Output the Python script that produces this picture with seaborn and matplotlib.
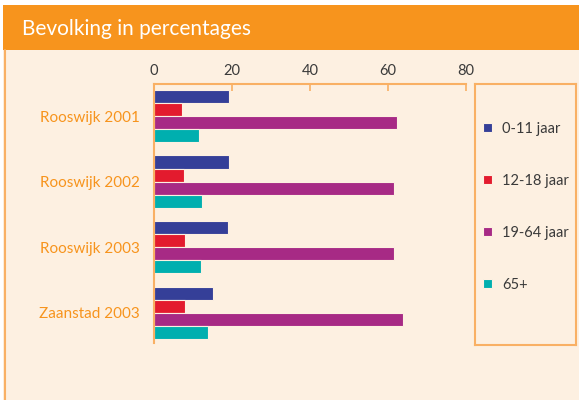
import pandas as pd
import seaborn as sns
import matplotlib.pyplot as plt
from matplotlib.patches import Rectangle
from matplotlib.lines import Line2D

# values
places = ["Rooswijk 2001", "Rooswijk 2002", "Rooswijk 2003", "Zaanstad 2003"]
ages = ["0-11 jaar", "12-18 jaar", "19-64 jaar", "65+"]
age_0_11 = [19.3, 19.3, 19.0, 15.2]
age_12_18 = [7.3, 7.8, 8.0, 8.0]
age_19_64 = [62.4, 61.6, 61.6, 63.9]
age_65 = [11.6, 12.4, 12.1, 13.9]
xticks = [0, 20, 40, 60, 80]

colors = ["#353f98", "#e31b2e", "#a72a85", "#00afaf"]
orange = "#f7941d"
line_orange = "#f9b064"
cream = "#fdf0e1"
text_grey = "#3a3a3a"

df = pd.DataFrame({
    "plaats": places * 4,
    "groep": [a for a in ages for _ in places],
    "pct": age_0_11 + age_12_18 + age_19_64 + age_65,
})

sns.set_style("white")
plt.rcParams["font.family"] = ["Lato", "DejaVu Sans"]

W, H = 579, 400
fig = plt.figure(figsize=(W / 100, H / 100), dpi=100, facecolor="white")

# background panels (in pixel coords converted to figure fractions)
def px_rect(x0, y0, x1, y1, **kw):
    fig.patches.append(Rectangle((x0 / W, 1 - y1 / H), (x1 - x0) / W, (y1 - y0) / H,
                                 transform=fig.transFigure, **kw))

px_rect(3, 50, W, H, facecolor=cream, edgecolor="none", zorder=-2)
px_rect(3, 5, W, 50, facecolor=orange, edgecolor="none", zorder=-2)
fig.lines.append(Line2D([4.5 / W, 4.5 / W], [0, 1 - 50 / H], transform=fig.transFigure,
                        color=line_orange, lw=1.5, zorder=-1))
fig.text(22 / W, 1 - 29 / H, "Bevolking in percentages", color="white",
         fontsize=15, va="center", ha="left")

ax = fig.add_axes([154 / W, 1 - 343 / H, (466 - 154) / W, (343 - 84) / H])
ax.set_facecolor("none")
sns.barplot(data=df, y="plaats", x="pct", hue="groep", hue_order=ages,
            order=places, palette=colors, orient="h", width=0.8,
            saturation=1, ax=ax, legend=True, edgecolor=cream, linewidth=0.8)
handles, labels = ax.get_legend_handles_labels()
ax.get_legend().remove()

ax.set_xlim(0, 80)
ax.set_ylim(3.46, -0.49)
ax.set_xticks(xticks)
ax.xaxis.tick_top()
ax.tick_params(axis="x", direction="in", length=5, color=line_orange, width=1.2,
               labelsize=10.5, labelcolor=text_grey, pad=4)
ax.tick_params(axis="y", length=0, labelsize=11, labelcolor=orange, pad=10)
ax.set_xlabel("")
ax.set_ylabel("")
for side in ["right", "bottom"]:
    ax.spines[side].set_visible(False)
for side in ["top", "left"]:
    ax.spines[side].set_color(line_orange)
    ax.spines[side].set_linewidth(1.5)

# legend box
lax = fig.add_axes([475 / W, 1 - 345 / H, (576 - 475) / W, (345 - 84) / H])
lax.set_facecolor("none")
lax.set_xticks([])
lax.set_yticks([])
for s in lax.spines.values():
    s.set_color(line_orange)
    s.set_linewidth(1.5)
lax.legend(handles, labels, loc="center left", bbox_to_anchor=(0.08, 0.53),
           frameon=False, fontsize=10.5, labelcolor=text_grey,
           borderaxespad=0, borderpad=0,
           handlelength=0.6, handleheight=0.6, handletextpad=0.7,
           labelspacing=2.6)

fig.savefig("out.png", dpi=100, facecolor=fig.get_facecolor())
